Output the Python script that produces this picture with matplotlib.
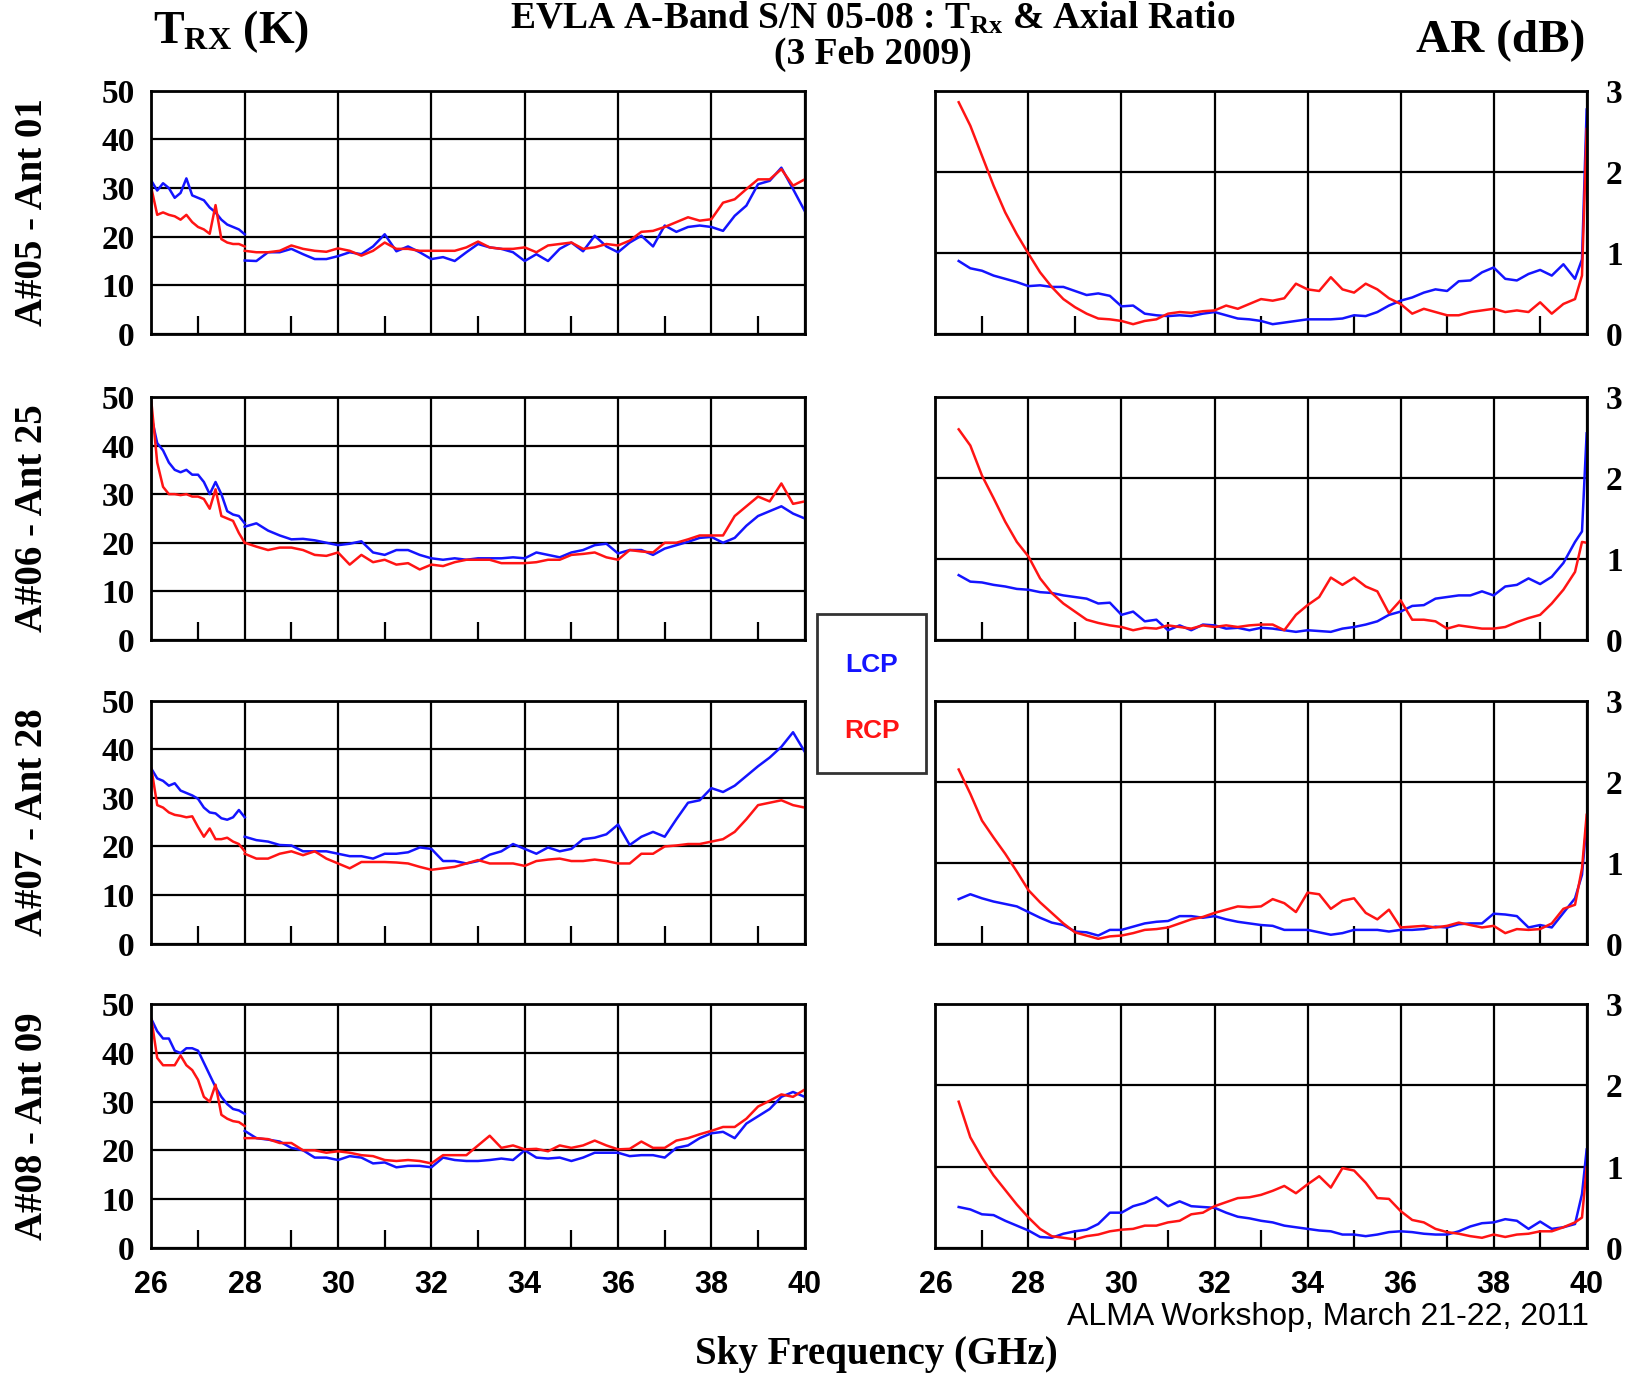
import numpy as np
import matplotlib
matplotlib.use('Agg')
import matplotlib.pyplot as plt
from matplotlib.patches import Rectangle

plt.rcParams['mathtext.fontset'] = 'custom'
plt.rcParams['mathtext.rm'] = 'Liberation Serif:bold'
plt.rcParams['mathtext.bf'] = 'Liberation Serif:bold'
plt.rcParams['mathtext.it'] = 'Liberation Serif:bold'

SERIF = 'Liberation Serif'
SANS = 'Liberation Sans'

# frequency grids (GHz)
f_lo = np.arange(26, 28.001, 0.125)
f_hi = np.arange(28, 40.001, 0.25)
f_ar = np.append(np.arange(26.5, 39.751, 0.25), [39.9, 40.0])

x_ticks = [26, 28, 30, 32, 34, 36, 38, 40]
rows = ['A#05 - Ant 01', 'A#06 - Ant 25', 'A#07 - Ant 28', 'A#08 - Ant 09']

# ---- T_RX (K), LCP / RCP, 26-28 GHz band and 28-40 GHz band ----
a05_lcp_lo = [31.5, 29.5, 31, 30, 28, 29, 32, 28.5, 28, 27.5, 26, 25, 23.5, 22.5, 22, 21.5, 20.5]
a05_rcp_lo = [30, 24.5, 25, 24.5, 24.2, 23.5, 24.5, 23, 22, 21.5, 20.6, 26.5, 19.5, 18.8, 18.5, 18.5, 18]
a05_lcp_hi = [15.1, 15, 16.8, 16.8, 17.5, 16.4, 15.4, 15.4, 16, 16.8,
              16.4, 18, 20.5, 17, 18, 16.8, 15.4, 15.8, 15, 16.8,
              18.5, 17.8, 17.5, 16.8, 15, 16.4, 15, 17.5, 18.8, 17,
              20.2, 18, 16.8, 18.8, 20.2, 18, 22.3, 21, 22, 22.3,
              22, 21.2, 24.3, 26.4, 30.8, 31.5, 34.2, 29.8, 25.3]
a05_rcp_hi = [17.1, 16.8, 16.8, 17.1, 18.2, 17.5, 17.1, 16.9, 17.6, 17.1,
              16.1, 17.1, 18.8, 17.5, 17.5, 17.1, 17.1, 17.1, 17.1, 17.8,
              19, 17.8, 17.5, 17.5, 17.8, 16.8, 18.2, 18.5, 18.8, 17.5,
              17.8, 18.5, 18.2, 19.2, 21, 21.2, 22, 23, 24, 23.3,
              23.6, 27, 27.7, 29.8, 31.8, 31.8, 33.9, 30.5, 31.8]

a06_lcp_lo = [46, 40.5, 39, 36.5, 35, 34.5, 35, 34, 34, 32.5, 30, 32.5, 30, 26.5, 25.8, 25.5, 24]
a06_rcp_lo = [49, 36.5, 31.5, 30, 30, 29.8, 30, 29.5, 29.5, 29, 27, 31, 25.5, 25, 24.5, 22, 20]
a06_lcp_hi = [23.3, 24, 22.5, 21.5, 20.7, 20.8, 20.5, 20, 19.5, 19.8,
              20.3, 18, 17.5, 18.5, 18.5, 17.5, 16.8, 16.5, 16.8, 16.5,
              16.8, 16.8, 16.8, 17, 16.8, 18, 17.5, 17, 18, 18.5,
              19.5, 19.8, 17.8, 18.5, 18.5, 17.5, 18.8, 19.5, 20.2, 21,
              21.2, 20, 21, 23.5, 25.5, 26.5, 27.5, 26, 25]
a06_rcp_hi = [20, 19.2, 18.5, 19, 19, 18.5, 17.5, 17.3, 18, 15.5,
              17.5, 16, 16.5, 15.5, 15.8, 14.5, 15.5, 15.2, 16, 16.5,
              16.5, 16.5, 15.8, 15.8, 15.8, 16, 16.5, 16.5, 17.5, 17.7,
              18, 17, 16.5, 18.5, 18.2, 18, 20, 20, 20.7, 21.5,
              21.5, 21.5, 25.5, 27.5, 29.5, 28.5, 32.2, 28, 28.5]

a07_lcp_lo = [36, 34, 33.5, 32.5, 33, 31.5, 31, 30.5, 29.8, 28, 27, 26.8, 25.8, 25.5, 26, 27.5, 26]
a07_rcp_lo = [36, 28.5, 28, 27, 26.5, 26.3, 26, 26.2, 24, 22, 23.7, 21.5, 21.5, 21.8, 21, 20.5, 19]
a07_lcp_hi = [22, 21.3, 21, 20.3, 20.2, 19, 19, 19, 18.5, 18,
              18, 17.5, 18.5, 18.5, 18.8, 19.8, 19.5, 17, 17, 16.5,
              17, 18.3, 19, 20.5, 19.5, 18.5, 19.8, 19, 19.5, 21.5,
              21.8, 22.5, 24.5, 20.3, 22, 23, 22, 25.6, 29, 29.5,
              32, 31.2, 32.5, 34.5, 36.5, 38.3, 40.5, 43.5, 39.5]
a07_rcp_hi = [18.5, 17.5, 17.5, 18.5, 19, 18.2, 19, 17.5, 16.5, 15.5,
              16.8, 16.8, 16.8, 16.7, 16.5, 15.8, 15.2, 15.5, 15.8, 16.5,
              17.2, 16.5, 16.5, 16.5, 16, 17, 17.3, 17.5, 17, 17,
              17.3, 17, 16.5, 16.5, 18.5, 18.5, 20, 20.2, 20.5, 20.5,
              21, 21.5, 23, 25.6, 28.5, 29, 29.5, 28.5, 28]

a08_lcp_lo = [47, 44.5, 43, 43, 40.5, 40, 41, 41, 40.5, 38, 35.5, 33, 31, 29.5, 28.5, 28.2, 27.5]
a08_rcp_lo = [47, 39, 37.5, 37.5, 37.5, 39.5, 37.5, 36.5, 34.5, 31, 30, 33.5, 27.3, 26.5, 26, 25.8, 25]
a08_lcp_hi = [24, 22.5, 22.2, 21.8, 20.5, 20, 18.5, 18.5, 18, 18.8,
              18.5, 17.3, 17.5, 16.5, 16.8, 16.8, 16.5, 18.5, 18, 17.8,
              17.8, 18, 18.3, 18, 20, 18.5, 18.3, 18.5, 17.8, 18.5,
              19.5, 19.5, 19.5, 18.8, 19, 19, 18.5, 20.5, 21, 22.5,
              23.5, 23.8, 22.5, 25.5, 27, 28.5, 31, 32, 31]
a08_rcp_hi = [22.5, 22.5, 22.3, 21.5, 21.5, 20, 20, 19.5, 19.8, 19.5,
              19, 18.8, 18, 17.8, 18, 17.8, 17.3, 19, 19, 19,
              21, 23, 20.5, 21, 20.2, 20.3, 19.8, 21, 20.5, 21,
              22, 21, 20.2, 20.3, 21.8, 20.5, 20.5, 22, 22.5, 23.3,
              24, 24.8, 24.8, 26.5, 29, 30.2, 31.5, 31, 32.5]

# ---- Axial ratio (dB) ----
a05_ar_lcp = [0.9, 0.81, 0.78, 0.72, 0.68, 0.64, 0.59, 0.6, 0.58, 0.58,
              0.53, 0.48, 0.5, 0.47, 0.34, 0.35, 0.25, 0.23, 0.22, 0.23,
              0.22, 0.25, 0.27, 0.23, 0.19, 0.18, 0.16, 0.12, 0.14, 0.16,
              0.18, 0.18, 0.18, 0.19, 0.23, 0.22, 0.27, 0.35, 0.41, 0.45,
              0.51, 0.55, 0.53, 0.65, 0.66, 0.76, 0.82, 0.68, 0.66, 0.74,
              0.79, 0.72, 0.86, 0.68, 0.92, 2.77]
a05_ar_rcp = [2.86, 2.57, 2.2, 1.83, 1.5, 1.23, 0.99, 0.76, 0.58, 0.43,
              0.33, 0.25, 0.19, 0.18, 0.16, 0.12, 0.16, 0.18, 0.25, 0.27,
              0.26, 0.28, 0.29, 0.35, 0.31, 0.37, 0.43, 0.41, 0.44, 0.62,
              0.55, 0.53, 0.7, 0.55, 0.51, 0.62, 0.55, 0.44, 0.37, 0.25,
              0.31, 0.27, 0.23, 0.23, 0.27, 0.29, 0.31, 0.27, 0.29, 0.27,
              0.39, 0.25, 0.37, 0.43, 0.72, 2.53]
a06_ar_lcp = [0.8, 0.72, 0.71, 0.68, 0.66, 0.63, 0.62, 0.59, 0.58, 0.55,
              0.53, 0.51, 0.45, 0.46, 0.31, 0.35, 0.23, 0.25, 0.12, 0.18,
              0.12, 0.19, 0.18, 0.14, 0.15, 0.12, 0.15, 0.14, 0.12, 0.1,
              0.12, 0.11, 0.1, 0.14, 0.16, 0.19, 0.23, 0.31, 0.35, 0.42,
              0.43, 0.51, 0.53, 0.55, 0.55, 0.6, 0.55, 0.66, 0.68, 0.76,
              0.69, 0.78, 0.95, 1.21, 1.34, 2.55]
a06_ar_rcp = [2.6, 2.4, 2.03, 1.75, 1.46, 1.21, 1.03, 0.76, 0.58, 0.45,
              0.35, 0.25, 0.21, 0.18, 0.16, 0.12, 0.15, 0.14, 0.18, 0.16,
              0.14, 0.18, 0.16, 0.18, 0.16, 0.18, 0.19, 0.19, 0.12, 0.31,
              0.43, 0.53, 0.77, 0.68, 0.77, 0.66, 0.6, 0.33, 0.49, 0.25,
              0.25, 0.23, 0.14, 0.18, 0.16, 0.14, 0.14, 0.16, 0.22, 0.27,
              0.31, 0.45, 0.62, 0.84, 1.21, 1.2]
a07_ar_lcp = [0.55, 0.61, 0.56, 0.52, 0.49, 0.46, 0.39, 0.32, 0.26, 0.23,
              0.15, 0.14, 0.1, 0.17, 0.17, 0.21, 0.25, 0.27, 0.28, 0.34,
              0.34, 0.32, 0.34, 0.3, 0.27, 0.25, 0.23, 0.22, 0.17, 0.17,
              0.17, 0.14, 0.11, 0.13, 0.17, 0.17, 0.17, 0.15, 0.17, 0.17,
              0.18, 0.21, 0.2, 0.24, 0.25, 0.25, 0.37, 0.36, 0.34, 0.2,
              0.23, 0.2, 0.38, 0.56, 0.85, 1.5]
a07_ar_rcp = [2.15, 1.85, 1.52, 1.31, 1.11, 0.89, 0.66, 0.51, 0.38, 0.25,
              0.14, 0.1, 0.06, 0.09, 0.1, 0.13, 0.17, 0.18, 0.2, 0.25,
              0.3, 0.33, 0.38, 0.42, 0.46, 0.45, 0.46, 0.55, 0.5, 0.39,
              0.63, 0.61, 0.43, 0.53, 0.56, 0.38, 0.3, 0.42, 0.2, 0.21,
              0.22, 0.2, 0.22, 0.26, 0.23, 0.2, 0.22, 0.13, 0.18, 0.17,
              0.18, 0.25, 0.43, 0.48, 0.93, 1.59]
a08_ar_lcp = [0.5, 0.47, 0.41, 0.4, 0.33, 0.27, 0.21, 0.13, 0.12, 0.17,
              0.2, 0.22, 0.29, 0.43, 0.43, 0.51, 0.55, 0.62, 0.51, 0.57,
              0.51, 0.5, 0.49, 0.43, 0.38, 0.36, 0.33, 0.31, 0.27, 0.25,
              0.23, 0.21, 0.2, 0.16, 0.16, 0.14, 0.16, 0.19, 0.2, 0.19,
              0.17, 0.16, 0.16, 0.2, 0.26, 0.3, 0.31, 0.35, 0.33, 0.23,
              0.32, 0.23, 0.25, 0.29, 0.66, 1.21]
a08_ar_rcp = [1.8, 1.36, 1.11, 0.89, 0.71, 0.53, 0.37, 0.23, 0.14, 0.12,
              0.1, 0.14, 0.16, 0.2, 0.22, 0.23, 0.27, 0.27, 0.31, 0.33,
              0.41, 0.43, 0.51, 0.56, 0.61, 0.62, 0.65, 0.7, 0.76, 0.67,
              0.78, 0.88, 0.74, 0.98, 0.95, 0.8, 0.61, 0.6, 0.45, 0.34,
              0.31, 0.23, 0.19, 0.17, 0.14, 0.12, 0.16, 0.13, 0.16, 0.17,
              0.2, 0.2, 0.25, 0.31, 0.37, 0.99]

trx = [
    (a05_lcp_lo, a05_lcp_hi, a05_rcp_lo, a05_rcp_hi),
    (a06_lcp_lo, a06_lcp_hi, a06_rcp_lo, a06_rcp_hi),
    (a07_lcp_lo, a07_lcp_hi, a07_rcp_lo, a07_rcp_hi),
    (a08_lcp_lo, a08_lcp_hi, a08_rcp_lo, a08_rcp_hi),
]
ar = [
    (a05_ar_lcp, a05_ar_rcp),
    (a06_ar_lcp, a06_ar_rcp),
    (a07_ar_lcp, a07_ar_rcp),
    (a08_ar_lcp, a08_ar_rcp),
]

BLUE = '#1414ff'
RED = '#ff1414'

fig = plt.figure(figsize=(16.26, 13.73), dpi=100)
bottoms = [0.7568, 0.5339, 0.3127, 0.0914]
h = 0.177


def style_axes(ax, last):
    ax.set_xlim(26, 40)
    ax.set_xticks(x_ticks)
    ax.set_xticks(np.arange(27, 40, 2), minor=True)
    ax.grid(True, which='major', color='black', lw=1.6)
    ax.tick_params(which='major', length=0, pad=16)
    ax.tick_params(axis='x', which='minor', direction='in', length=13, width=1.6,
                   bottom=True, top=False)
    for s in ax.spines.values():
        s.set_linewidth(2)
    if last:
        ax.set_xticklabels([str(t) for t in x_ticks], fontfamily=SANS,
                           fontweight='bold', fontsize=22)
    else:
        ax.set_xticklabels([])
    ax.set_axisbelow(True)


for i in range(4):
    lcp_lo, lcp_hi, rcp_lo, rcp_hi = trx[i]
    axl = fig.add_axes([0.0931, bottoms[i], 0.4018, h])
    axl.plot(f_lo, lcp_lo, color=BLUE, lw=1.8)
    axl.plot(f_hi, lcp_hi, color=BLUE, lw=1.8)
    axl.plot(f_lo, rcp_lo, color=RED, lw=1.8)
    axl.plot(f_hi, rcp_hi, color=RED, lw=1.8)
    axl.set_ylim(0, 50)
    axl.set_yticks([0, 10, 20, 30, 40, 50])
    style_axes(axl, i == 3)
    axl.tick_params(axis='y', pad=12)
    for lab in axl.get_yticklabels():
        lab.set_fontfamily(SERIF)
        lab.set_fontweight('bold')
        lab.set_fontsize(24)

    ar_lcp, ar_rcp = ar[i]
    axr = fig.add_axes([0.5753, bottoms[i], 0.4005, h])
    axr.plot(f_ar, ar_lcp, color=BLUE, lw=1.8)
    axr.plot(f_ar, ar_rcp, color=RED, lw=1.8)
    axr.set_ylim(0, 3)
    axr.set_yticks([0, 1, 2, 3])
    axr.yaxis.tick_right()
    style_axes(axr, i == 3)
    axr.tick_params(axis='y', pad=14)
    for lab in axr.get_yticklabels():
        lab.set_fontfamily(SERIF)
        lab.set_fontweight('bold')
        lab.set_fontsize(24)

    fig.text(0.02, bottoms[i] + h / 2, rows[i], rotation=90, ha='center', va='center',
             fontfamily=SERIF, fontweight='bold', fontsize=28)

# titles and labels
fig.text(0.537, 0.9995, r'EVLA A-Band S/N 05-08 : T$_{\mathrm{Rx}}$ & Axial Ratio',
         ha='center', va='top', fontfamily=SERIF, fontweight='bold', fontsize=27)
fig.text(0.537, 0.9600, '(3 Feb 2009)', ha='center', va='center',
         fontfamily=SERIF, fontweight='bold', fontsize=27)
fig.text(0.094, 0.9767, r'T$_{\mathrm{RX}}$ (K)', ha='left', va='center',
         fontfamily=SERIF, fontweight='bold', fontsize=33)
fig.text(0.975, 0.970, 'AR (dB)', ha='right', va='center',
         fontfamily=SERIF, fontweight='bold', fontsize=34)
fig.text(0.5387, 0.0135, 'Sky Frequency (GHz)', ha='center', va='center',
         fontfamily=SERIF, fontweight='bold', fontsize=28)
fig.text(0.9772, 0.0405, 'ALMA Workshop, March 21-22, 2011', ha='right', va='center',
         fontfamily=SANS, fontsize=23)

# LCP / RCP legend box
fig.add_artist(Rectangle((0.5025, 0.437), 0.067, 0.1158, transform=fig.transFigure,
                         facecolor='white', edgecolor='#333333', lw=2))
fig.text(0.5363, 0.5157, 'LCP', color=BLUE, ha='center', va='center',
         fontfamily=SANS, fontweight='bold', fontsize=19)
fig.text(0.5363, 0.4676, 'RCP', color=RED, ha='center', va='center',
         fontfamily=SANS, fontweight='bold', fontsize=19)

fig.savefig('out.png', dpi=100, facecolor='white')
